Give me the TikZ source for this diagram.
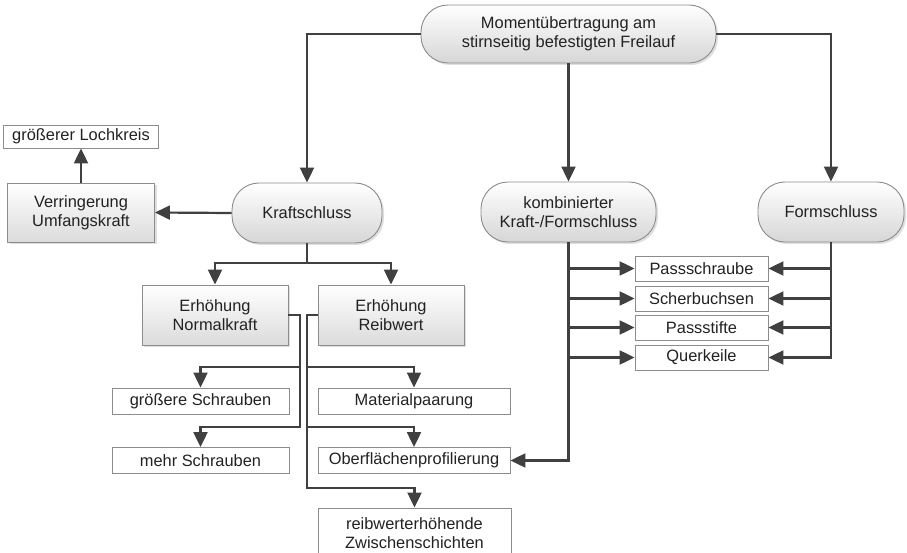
\documentclass[tikz,border=0pt]{standalone}
\usepackage{fontspec}
\setmainfont{Liberation Sans}
\usetikzlibrary{arrows.meta,shadows,calc}
\definecolor{lnc}{HTML}{404040}
\definecolor{bdc}{HTML}{8C8C8C}
\definecolor{txc}{HTML}{222222}
\begin{document}
\begin{tikzpicture}[x=1pt,y=-1pt,
  every node/.style={font=\fontsize{16.4}{19}\selectfont, text=txc, align=center, inner sep=0pt},
  pill/.style={draw=bdc, line width=0.9pt, rounded corners=27pt, top color=white, bottom color=black!16,
     drop shadow={opacity=0.25, shadow xshift=2pt, shadow yshift=-2pt}},
  sbox/.style={draw=bdc, line width=0.9pt, top color=white, bottom color=black!14,
     drop shadow={opacity=0.25, shadow xshift=2pt, shadow yshift=-2pt}},
  pbox/.style={draw=bdc, line width=0.9pt, fill=white},
  ln/.style={draw=lnc, line width=2.2pt},
  arr/.style={ln, -{Triangle[length=15pt,width=14pt]}}
]
\useasboundingbox (0,0) rectangle (907,553);
\clip (0,0) rectangle (907,553);
\fill[white] (0,0) rectangle (907,553);

% nodes
\node[pill, minimum width=295, minimum height=58] (top) at (568.5,34) {Momentübertragung am\\stirnseitig befestigten Freilauf};
\node[pill, minimum width=150, minimum height=60] (kraft) at (307,213) {Kraftschluss};
\node[pill, minimum width=175, minimum height=60] (komb) at (568.5,212) {kombinierter\\Kraft-/Formschluss};
\node[pill, minimum width=146, minimum height=60] (form) at (831,212) {Formschluss};

\node[sbox, minimum width=147, minimum height=59] (verr) at (81,212.5) {Verringerung\\Umfangskraft};
\node[pbox, minimum width=155, minimum height=23] (loch) at (81,136.5) {größerer Lochkreis};

\node[sbox, minimum width=146, minimum height=60] (normal) at (215,315) {Erhöhung\\Normalkraft};
\node[sbox, minimum width=146, minimum height=60] (reib) at (391,315) {Erhöhung\\Reibwert};

\node[pbox, minimum width=177, minimum height=26] (gs) at (200.5,401) {größere Schrauben};
\node[pbox, minimum width=177, minimum height=26] (ms) at (200.5,460.5) {mehr Schrauben};
\node[pbox, minimum width=192, minimum height=26] (mat) at (414,401) {Materialpaarung};
\node[pbox, minimum width=192, minimum height=26] (ober) at (414,460.5) {Oberflächenprofilierung};
\node[pbox, minimum width=193, minimum height=50] (zw) at (414.5,533) {reibwerterhöhende\\Zwischenschichten};

\node[pbox, minimum width=133, minimum height=25] (p1) at (701.5,268.5) {Passschraube};
\node[pbox, minimum width=133, minimum height=25] (p2) at (701.5,298.5) {Scherbuchsen};
\node[pbox, minimum width=133, minimum height=25] (p3) at (701.5,327.5) {Passstifte};
\node[pbox, minimum width=133, minimum height=25] (p4) at (701.5,357.5) {Querkeile};

% coordinates
\coordinate (kj) at (307,263);
\coordinate (nb1) at (300,367);
\coordinate (nb2) at (300,427);
\coordinate (rb1) at (307,367);
\coordinate (rb2) at (307,427);
\coordinate (rb3) at (307,488);

% connectors
\draw[arr] (top.west) -| (kraft.north);
\draw[arr] (top.south) -- (komb.north);
\draw[arr] (top.east) -| (form.north);

\draw[arr] (kraft.west) -- (verr.east);
\draw[arr] (verr.north) -- (loch.south);

\draw[ln] (kraft.south) -- (kj);
\draw[arr] (kj) -| (normal.north);
\draw[arr] (kj) -| (reib.north);

\draw[arr] (normal.east) -| (nb1) -| (gs.north);
\draw[arr] (normal.east) -| (nb2) -| (ms.north);

\draw[arr] (reib.west) -| (rb1) -| (mat.north);
\draw[arr] (reib.west) -| (rb2) -| (ober.north);
\draw[arr] (reib.west) -| (rb3) -| (zw.north);

\draw[arr] (komb.south) |- (ober.east);
\draw[arr] (komb.south) |- (p1.west);
\draw[arr] (komb.south) |- (p2.west);
\draw[arr] (komb.south) |- (p3.west);
\draw[arr] (komb.south) |- (p4.west);

\draw[arr] (form.south) |- (p1.east);
\draw[arr] (form.south) |- (p2.east);
\draw[arr] (form.south) |- (p3.east);
\draw[arr] (form.south) |- (p4.east);
\end{tikzpicture}
\end{document}
